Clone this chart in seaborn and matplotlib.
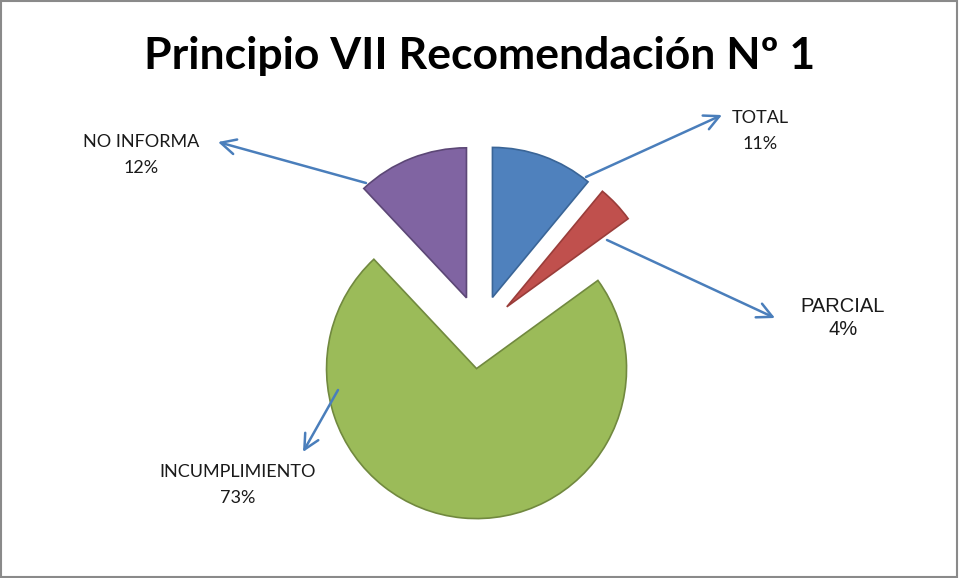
import matplotlib
matplotlib.use("Agg")
import matplotlib.pyplot as plt
import seaborn as sns
from matplotlib.patches import Rectangle

# datos del gráfico
categorias = ["TOTAL", "PARCIAL", "INCUMPLIMIENTO", "NO INFORMA"]
porcentajes = [11, 4, 73, 12]
colores = ["#4F81BD", "#C0504D", "#9BBB59", "#8064A2"]
bordes = ["#3A6597", "#9A3D3A", "#71893F", "#5C4776"]
titulo = "Principio VII Recomendación Nº 1"

sns.set_theme(style="white")
plt.rcParams["font.family"] = ["Lato", "DejaVu Sans"]

W, H = 959, 578
R = 150
fig = plt.figure(figsize=(W / 100, H / 100), dpi=100)
ax = fig.add_axes([0, 0, 1, 1])

# explode va en unidades de datos, no se escala con el radio
wedges, _ = ax.pie(porcentajes, colors=colores, startangle=90, counterclock=False,
                   explode=[0.245 * R] * len(porcentajes), radius=R, center=(480, H - 332),
                   wedgeprops=dict(linewidth=1.2), frame=True)
for w, b in zip(wedges, bordes):
    w.set_edgecolor(b)
ax.set_xlim(0, W)
ax.set_ylim(0, H)
ax.axis("off")

# etiquetas: (texto x, texto y, inicio flecha, punta flecha, fuente, tamaño)
etiquetas = [
    (760, 131, (586, 177), (722, 115), "Lato", 13),
    (843, 318, (607, 240), (775, 318), "Liberation Sans", 14.5),
    (238, 485, (338, 390), (303, 452), "Lato", 13),
    (141, 155, (366, 183), (218, 142), "Lato", 13),
]
for cat, pct, (tx, ty, p0, p1, fam, fs) in zip(categorias, porcentajes, etiquetas):
    ax.text(tx, H - ty, f"{cat}\n{pct}%", ha="center", va="center",
            fontsize=fs, family=fam, linespacing=1.8 if fam == "Lato" else 1.3,
            color="#1a1a1a")
    ax.annotate("", xy=(p1[0], H - p1[1]), xytext=(p0[0], H - p0[1]),
                arrowprops=dict(arrowstyle="->,head_length=0.9,head_width=0.45",
                                color="#4A7EBB", lw=1.8, shrinkA=0, shrinkB=0))

fig.text(480 / W, 1 - 56 / H, titulo, ha="center", va="center",
         fontsize=32, fontweight="bold", color="black")

fig.patches.append(Rectangle((0.001, 0.002), 0.997, 0.996, transform=fig.transFigure,
                             fill=False, edgecolor="#8a8a8a", linewidth=1.5))

fig.savefig("out.png", dpi=100)
